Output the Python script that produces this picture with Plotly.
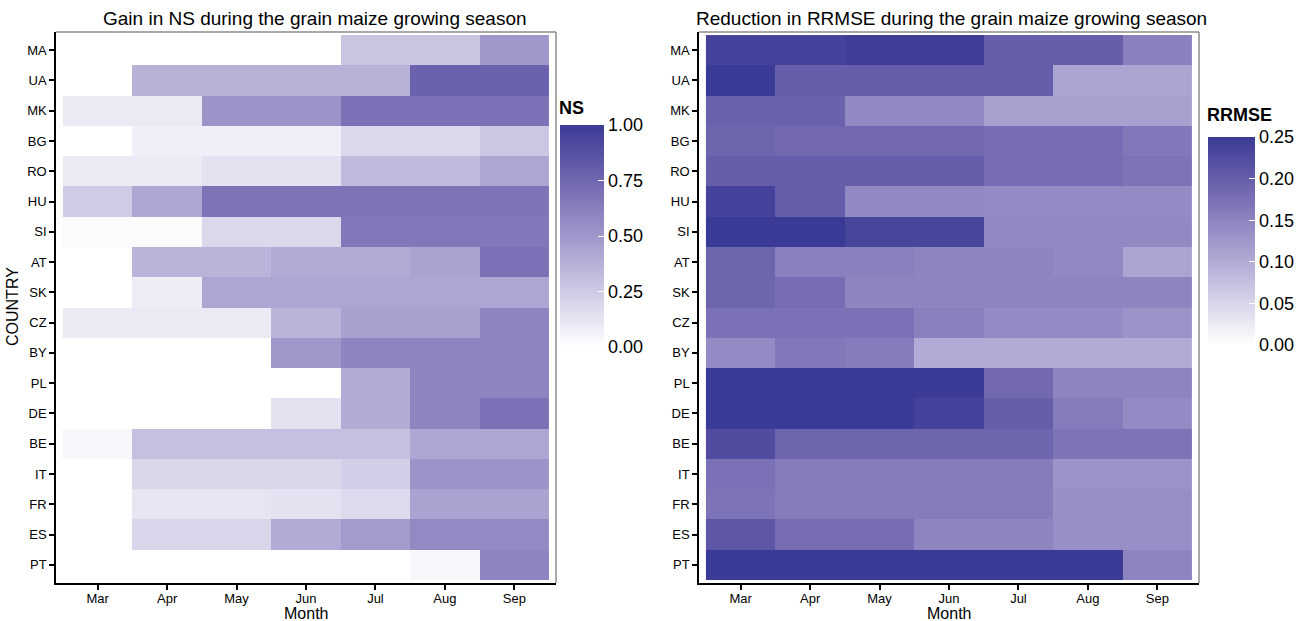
import plotly.graph_objects as go

W, H = 1311, 621

months = ["Mar", "Apr", "May", "Jun", "Jul", "Aug", "Sep"]
countries = ["MA", "UA", "MK", "BG", "RO", "HU", "SI", "AT", "SK", "CZ",
             "BY", "PL", "DE", "BE", "IT", "FR", "ES", "PT"]

ns_gain = [
    [0.00, 0.00, 0.00, 0.00, 0.28, 0.28, 0.50],  # MA
    [0.00, 0.37, 0.37, 0.37, 0.37, 0.78, 0.78],  # UA
    [0.10, 0.10, 0.52, 0.52, 0.70, 0.70, 0.70],  # MK
    [0.00, 0.08, 0.08, 0.08, 0.18, 0.18, 0.27],  # BG
    [0.10, 0.10, 0.14, 0.14, 0.33, 0.33, 0.42],  # RO
    [0.25, 0.42, 0.68, 0.68, 0.68, 0.68, 0.68],  # HU
    [0.02, 0.02, 0.18, 0.18, 0.66, 0.66, 0.66],  # SI
    [0.00, 0.36, 0.36, 0.40, 0.40, 0.45, 0.70],  # AT
    [0.00, 0.09, 0.43, 0.43, 0.43, 0.43, 0.43],  # SK
    [0.10, 0.10, 0.10, 0.36, 0.46, 0.46, 0.60],  # CZ
    [0.00, 0.00, 0.00, 0.50, 0.60, 0.60, 0.60],  # BY
    [0.00, 0.00, 0.00, 0.00, 0.40, 0.60, 0.60],  # PL
    [0.00, 0.00, 0.00, 0.14, 0.40, 0.60, 0.70],  # DE
    [0.04, 0.30, 0.30, 0.30, 0.30, 0.43, 0.43],  # BE
    [0.00, 0.19, 0.19, 0.19, 0.23, 0.52, 0.52],  # IT
    [0.00, 0.12, 0.12, 0.14, 0.17, 0.45, 0.45],  # FR
    [0.00, 0.20, 0.20, 0.40, 0.48, 0.57, 0.57],  # ES
    [0.00, 0.00, 0.00, 0.00, 0.00, 0.04, 0.60],  # PT
]

rrmse_red = [
    [0.240, 0.240, 0.245, 0.245, 0.200, 0.200, 0.155],  # MA
    [0.250, 0.200, 0.200, 0.200, 0.200, 0.110, 0.110],  # UA
    [0.195, 0.195, 0.145, 0.145, 0.115, 0.115, 0.115],  # MK
    [0.190, 0.185, 0.185, 0.185, 0.180, 0.180, 0.165],  # BG
    [0.200, 0.200, 0.200, 0.200, 0.180, 0.180, 0.170],  # RO
    [0.240, 0.200, 0.145, 0.145, 0.140, 0.140, 0.140],  # HU
    [0.250, 0.250, 0.235, 0.235, 0.145, 0.145, 0.145],  # SI
    [0.190, 0.155, 0.155, 0.150, 0.150, 0.145, 0.110],  # AT
    [0.190, 0.180, 0.150, 0.150, 0.150, 0.150, 0.150],  # SK
    [0.175, 0.175, 0.175, 0.155, 0.140, 0.140, 0.130],  # CZ
    [0.140, 0.165, 0.160, 0.100, 0.100, 0.100, 0.100],  # BY
    [0.250, 0.250, 0.250, 0.250, 0.185, 0.150, 0.150],  # PL
    [0.250, 0.250, 0.250, 0.240, 0.200, 0.160, 0.140],  # DE
    [0.225, 0.190, 0.190, 0.190, 0.190, 0.170, 0.170],  # BE
    [0.175, 0.160, 0.160, 0.160, 0.160, 0.130, 0.130],  # IT
    [0.170, 0.160, 0.160, 0.160, 0.160, 0.135, 0.135],  # FR
    [0.210, 0.180, 0.180, 0.150, 0.150, 0.135, 0.135],  # ES
    [0.250, 0.250, 0.250, 0.250, 0.250, 0.250, 0.150],  # PT
]

ns_ticks = [0, 0.25, 0.5, 0.75, 1.0]
ns_ticktext = ["0.00", "0.25", "0.50", "0.75", "1.00"]
rrmse_ticks = [0, 0.05, 0.10, 0.15, 0.20, 0.25]
rrmse_ticktext = ["0.00", "0.05", "0.10", "0.15", "0.20", "0.25"]

# ---- colour scale: white -> dark blue, interpolated in CIELAB (like ggplot) ----
LOW = (255, 255, 255)
HIGH = (58, 59, 150)


def _lin(c):
    c = c / 255.0
    return c / 12.92 if c <= 0.04045 else ((c + 0.055) / 1.055) ** 2.4


def _delin(c):
    c = 12.92 * c if c <= 0.0031308 else 1.055 * c ** (1 / 2.4) - 0.055
    return max(0, min(255, round(c * 255)))


WP = (0.95047, 1.0, 1.08883)


def _f(t):
    return t ** (1 / 3) if t > 216 / 24389 else (24389 / 27 * t + 16) / 116


def _finv(t):
    return t ** 3 if t ** 3 > 216 / 24389 else (116 * t - 16) / (24389 / 27)


def rgb2lab(rgb):
    r, g, b = (_lin(v) for v in rgb)
    X = 0.4124 * r + 0.3576 * g + 0.1805 * b
    Y = 0.2126 * r + 0.7152 * g + 0.0722 * b
    Z = 0.0193 * r + 0.1192 * g + 0.9505 * b
    fx, fy, fz = _f(X / WP[0]), _f(Y / WP[1]), _f(Z / WP[2])
    return (116 * fy - 16, 500 * (fx - fy), 200 * (fy - fz))


def lab2rgb(lab):
    L, a, b = lab
    fy = (L + 16) / 116
    fx = fy + a / 500
    fz = fy - b / 200
    X, Y, Z = _finv(fx) * WP[0], _finv(fy) * WP[1], _finv(fz) * WP[2]
    r = 3.2406 * X - 1.5372 * Y - 0.4986 * Z
    g = -0.9689 * X + 1.8758 * Y + 0.0415 * Z
    bb = 0.0557 * X - 0.2040 * Y + 1.0570 * Z
    return tuple(_delin(max(0, v)) for v in (r, g, bb))


lo, hi = rgb2lab(LOW), rgb2lab(HIGH)
NSTEP = 24
colorscale = []
for i in range(NSTEP + 1):
    t = i / NSTEP
    lab = tuple(lo[k] + (hi[k] - lo[k]) * t for k in range(3))
    r, g, b = lab2rgb(lab)
    colorscale.append([t, f"rgb({r},{g},{b})"])

FONT = "Liberation Sans, Arial, Helvetica, sans-serif"

# panel geometry (pixels)
L1, R1 = 56, 556
L2, R2 = 699, 1199
TOP, BOT = 32, 583


def px_x(p):
    return p / W


def px_y(p):
    return 1 - p / H


fig = go.Figure()

fig.add_trace(go.Heatmap(
    z=ns_gain, x=months, y=countries, xaxis="x", yaxis="y",
    zmin=0, zmax=1, colorscale=colorscale,
    colorbar=dict(
        thickness=44, thicknessmode="pixels",
        len=222, lenmode="pixels",
        x=px_x(560), xanchor="left", xpad=0,
        y=px_y(236), yanchor="middle", ypad=0,
        tickvals=ns_ticks, ticktext=ns_ticktext,
        ticks="inside", ticklen=6, tickcolor="white", tickwidth=1,
        tickfont=dict(size=18, family=FONT, color="black"),
        outlinewidth=0,
    ),
))

fig.add_trace(go.Heatmap(
    z=rrmse_red, x=months, y=countries, xaxis="x2", yaxis="y2",
    zmin=0, zmax=0.25, colorscale=colorscale,
    colorbar=dict(
        thickness=47, thicknessmode="pixels",
        len=208, lenmode="pixels",
        x=px_x(1208), xanchor="left", xpad=0,
        y=px_y(241), yanchor="middle", ypad=0,
        tickvals=rrmse_ticks, ticktext=rrmse_ticktext,
        ticks="inside", ticklen=6, tickcolor="white", tickwidth=1,
        tickfont=dict(size=18, family=FONT, color="black"),
        outlinewidth=0,
    ),
))

ax_common = dict(
    showline=True, linecolor="black", linewidth=1.5,
    ticks="outside", ticklen=5, tickcolor="black", tickwidth=1.5,
    tickfont=dict(size=13, family=FONT, color="black"),
    showgrid=False, zeroline=False, type="category",
)
xtick = dict(ticklabelstandoff=-2)

fig.update_layout(
    width=W, height=H,
    margin=dict(l=0, r=0, t=0, b=0),
    paper_bgcolor="white", plot_bgcolor="white",
    font=dict(family=FONT, color="black"),
    xaxis=dict(domain=[px_x(L1), px_x(R1)], anchor="y", range=[-0.6, 6.6],
               categoryorder="array", categoryarray=months, **ax_common, **xtick),
    yaxis=dict(domain=[px_y(BOT), px_y(TOP)], anchor="x", range=[17.6, -0.6],
               categoryorder="array", categoryarray=countries, **ax_common),
    xaxis2=dict(domain=[px_x(L2), px_x(R2)], anchor="y2", range=[-0.6, 6.6],
                categoryorder="array", categoryarray=months, **ax_common, **xtick),
    yaxis2=dict(domain=[px_y(BOT), px_y(TOP)], anchor="x2", range=[17.6, -0.6],
                categoryorder="array", categoryarray=countries, **ax_common),
)

# grey frame on top and right of each panel
for xr, yr in (("x domain", "y domain"), ("x2 domain", "y2 domain")):
    fig.add_shape(type="line", xref=xr, yref=yr, x0=0, x1=1, y0=1, y1=1,
                  line=dict(color="#8c8c8c", width=1.5), layer="above")
    fig.add_shape(type="line", xref=xr, yref=yr, x0=1, x1=1, y0=0, y1=1,
                  line=dict(color="#8c8c8c", width=1.5), layer="above")


def label(text, xp, yp, size, angle=0, xanchor="center"):
    fig.add_annotation(text=text, x=px_x(xp), y=px_y(yp), xref="paper", yref="paper",
                       xanchor=xanchor, yanchor="middle", showarrow=False,
                       textangle=angle, font=dict(size=size, family=FONT, color="black"))


label("Gain in NS during the grain maize growing season", 315, 18, 19)
label("Reduction in RRMSE during the grain maize growing season", 951, 18, 19)
label("Month", (L1 + R1) / 2, 613, 16)
label("Month", (L2 + R2) / 2, 613, 16)
label("COUNTRY", 12, 307, 16, angle=-90)
label("<b>NS</b>", 557, 108, 18, xanchor="left")
label("<b>RRMSE</b>", 1205, 115, 18, xanchor="left")

fig.write_html("out.html")
